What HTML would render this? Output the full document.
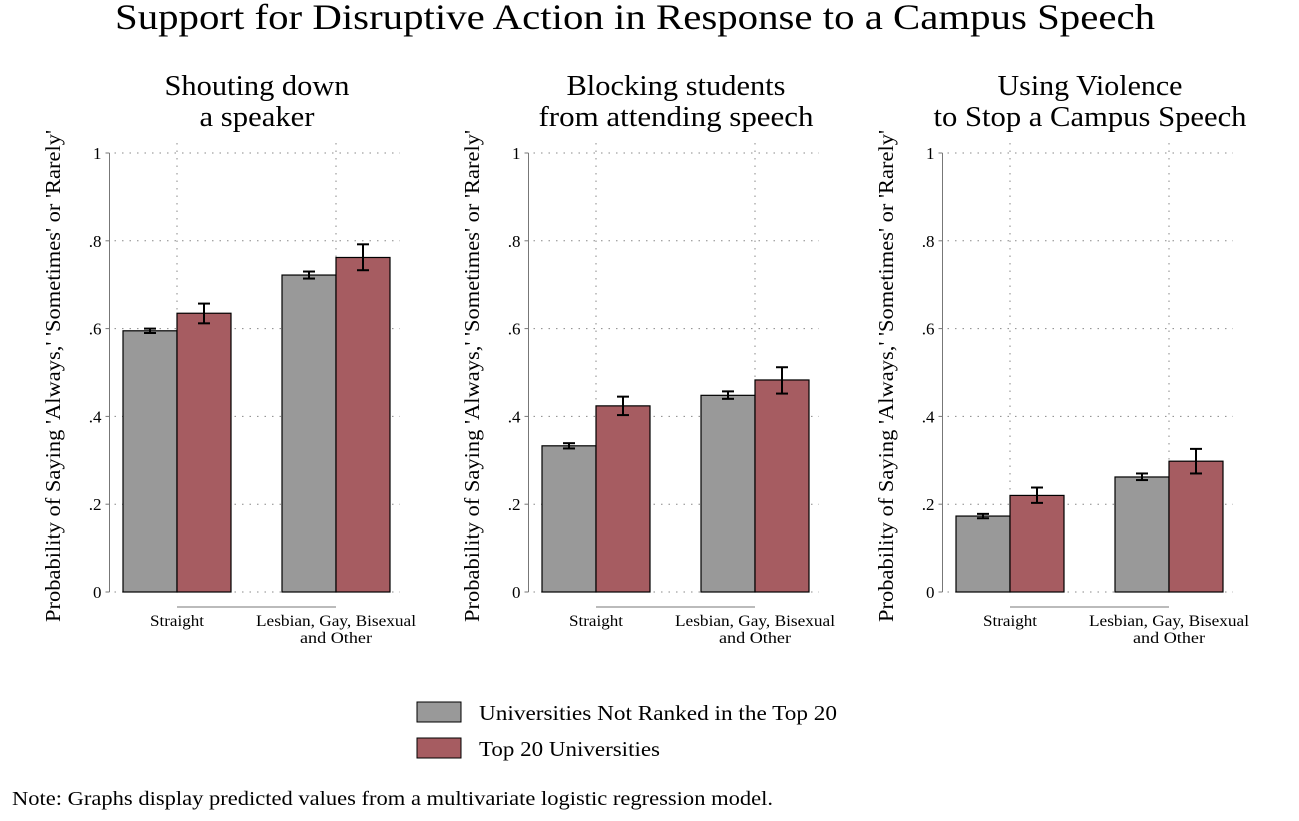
<!DOCTYPE html>
<html><head><meta charset="utf-8"><style>
body{margin:0;background:#fff;}
svg text{font-family:"Liberation Serif",serif;fill:#000;}
</style></head><body>
<svg id="chart" width="1299" height="816" xmlns="http://www.w3.org/2000/svg">
<rect width="1299" height="816" fill="#fff"/>
<text x="635" y="29" font-size="36" text-anchor="middle" textLength="1040" lengthAdjust="spacingAndGlyphs">Support for Disruptive Action in Response to a Campus Speech</text>
<g id="panels"></g>
<rect x="417" y="702" width="44" height="20" fill="#999" stroke="#000"/>
<text x="479" y="720" font-size="21" textLength="358" lengthAdjust="spacingAndGlyphs">Universities Not Ranked in the Top 20</text>
<rect x="417" y="738" width="44" height="20" fill="#a65c61" stroke="#000"/>
<text x="479" y="756" font-size="21" textLength="181" lengthAdjust="spacingAndGlyphs">Top 20 Universities</text>
<text x="12" y="805" font-size="20" textLength="761" lengthAdjust="spacingAndGlyphs">Note: Graphs display predicted values from a multivariate logistic regression model.</text>
</svg>
<script>
const panelTitles = [["Shouting down","a speaker"],["Blocking students","from attending speech"],["Using Violence","to Stop a Campus Speech"]];
const panelTitleLens = [[185,115],[219,275],[185,313]];
const categories = [["Straight"],["Lesbian, Gay, Bisexual","and Other"]];
const categoryLens = [[54],[160,72]];
const yTicks = [0,0.2,0.4,0.6,0.8,1];
const yTickLabels = ["0",".2",".4",".6",".8","1"];
// per panel: [straight, lgb]
const notTop20 = [[0.595,0.722],[0.333,0.448],[0.173,0.262]];
const notTop20Lo = [[0.590,0.714],[0.327,0.440],[0.168,0.255]];
const notTop20Hi = [[0.600,0.730],[0.339,0.457],[0.178,0.270]];
const top20 = [[0.635,0.762],[0.424,0.483],[0.220,0.298]];
const top20Lo = [[0.612,0.733],[0.403,0.452],[0.203,0.270]];
const top20Hi = [[0.657,0.792],[0.445,0.512],[0.238,0.326]];

const NS="http://www.w3.org/2000/svg";
const g=document.getElementById('panels');
function el(t,a,p){const e=document.createElementNS(NS,t);for(const k in a)e.setAttribute(k,a[k]);(p||g).appendChild(e);return e;}
const y0=592,y1=153;
function yScale(v){return y0-(y0-y1)*v;}
const offsets=[0,419,833];
offsets.forEach((off,p)=>{
  const ax=109.5+off;
  const centers=[177+off,336+off];
  const pg=el('g',{});
  
  
  panelTitles[p].forEach((t,i)=>{
    const e=el('text',{x:257+off,y:95+i*31,'font-size':28,'text-anchor':'middle',textLength:panelTitleLens[p][i],lengthAdjust:'spacingAndGlyphs'},pg);e.textContent=t;
    
    
  });
  const yl=el('text',{transform:`translate(${60+off},376) rotate(-90)`,'font-size':21,'text-anchor':'middle',textLength:492,lengthAdjust:'spacingAndGlyphs'},pg);
  yl.textContent="Probability of Saying 'Always,' 'Sometimes' or 'Rarely'";
  
  
  yTicks.forEach((v,i)=>{
    const y=yScale(v);
    el('line',{x1:ax+5,x2:off+400,y1:y,y2:y,stroke:'#888','stroke-dasharray':'1.5,6'},pg);
    el('line',{x1:ax-4,x2:ax,y1:y,y2:y,stroke:'#777'},pg);
    const t=el('text',{x:ax-8,y:y+6,'font-size':17,'text-anchor':'end'},pg);t.textContent=yTickLabels[i];
    
    
  });
  centers.forEach(c=>el('line',{x1:c,x2:c,y1:y1-10,y2:y0,stroke:'#888','stroke-dasharray':'1.5,6'},pg));
  el('line',{x1:ax,x2:ax,y1:y1,y2:y0,stroke:'#777'},pg);
  el('line',{x1:centers[0],x2:centers[1],y1:607,y2:607,stroke:'#777'},pg);
  centers.forEach((c,i)=>{
    categories[i].forEach((t,j)=>{
      const e=el('text',{x:c,y:626+j*17,'font-size':16,'text-anchor':'middle',textLength:categoryLens[i][j],lengthAdjust:'spacingAndGlyphs'},pg);e.textContent=t;
      
      
    });
    const bw=54;
    const b1=el('rect',{x:c-bw,y:yScale(notTop20[p][i]),width:bw,height:y0-yScale(notTop20[p][i]),fill:'#999',stroke:'#000','stroke-width':1.2},pg);
    
    
    const b2=el('rect',{x:c,y:yScale(top20[p][i]),width:bw,height:y0-yScale(top20[p][i]),fill:'#a65c61',stroke:'#000','stroke-width':1.2},pg);
    
    
    [[c-bw/2,notTop20Lo[p][i],notTop20Hi[p][i]],[c+bw/2,top20Lo[p][i],top20Hi[p][i]]].forEach(([x,lo,hi])=>{
      const eg=el('g',{stroke:'#000','stroke-width':2},pg);
      
      
      el('line',{x1:x,x2:x,y1:yScale(lo),y2:yScale(hi)},eg);
      el('line',{x1:x-6,x2:x+6,y1:yScale(lo),y2:yScale(lo)},eg);
      el('line',{x1:x-6,x2:x+6,y1:yScale(hi),y2:yScale(hi)},eg);
    });
  });
});
</script>
</body></html>
